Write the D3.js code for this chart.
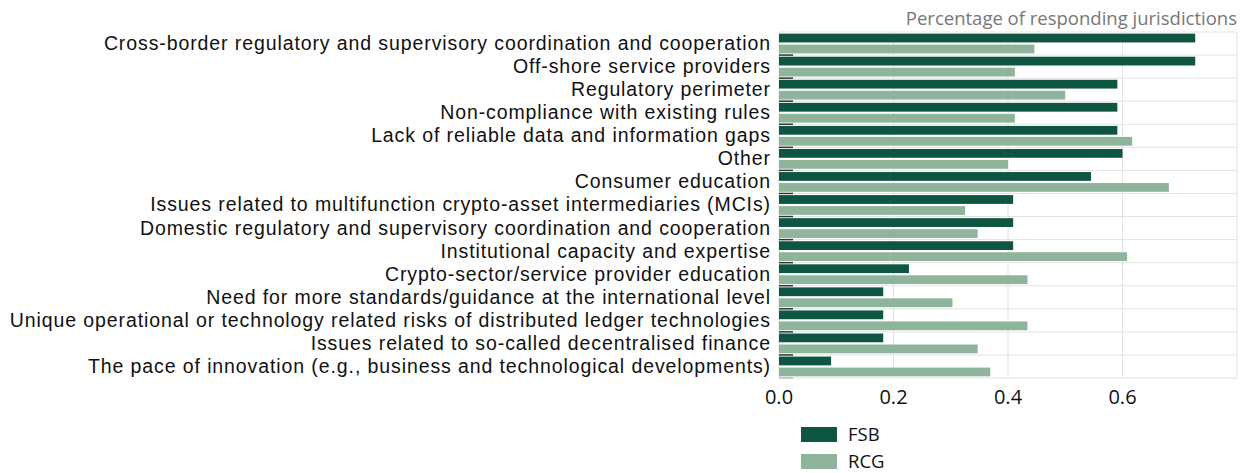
<!DOCTYPE html>
<meta charset="utf-8" />
<style>
    body { margin: 0; background: #fff; }
    text { font-family: "Open Sans", "Noto Sans", sans-serif; }
    text.cat { font-family: "Liberation Sans", Arial, sans-serif; letter-spacing: 0.9px; }
</style>
<script src="https://d3js.org/d3.v7.min.js"></script>
<div id="chart"></div>
<script>
    const categories = [
        "Cross-border regulatory and supervisory coordination and cooperation",
        "Off-shore service providers",
        "Regulatory perimeter",
        "Non-compliance with existing rules",
        "Lack of reliable data and information gaps",
        "Other",
        "Consumer education",
        "Issues related to multifunction crypto-asset intermediaries (MCIs)",
        "Domestic regulatory and supervisory coordination and cooperation",
        "Institutional capacity and expertise",
        "Crypto-sector/service provider education",
        "Need for more standards/guidance at the international level",
        "Unique operational or technology related risks of distributed ledger technologies",
        "Issues related to so-called decentralised finance",
        "The pace of innovation (e.g., business and technological developments)"
    ];
    const fsb = [0.727, 0.727, 0.591, 0.591, 0.591, 0.6, 0.545, 0.409, 0.409, 0.409, 0.227, 0.182, 0.182, 0.182, 0.091];
    const rcg = [0.446, 0.412, 0.5, 0.412, 0.617, 0.4, 0.681, 0.325, 0.347, 0.608, 0.434, 0.303, 0.434, 0.347, 0.369];
    const seriesNames = ["FSB", "RCG"];
    const xTicks = [0, 0.2, 0.4, 0.6];
    const colors = ["#0e5641", "#8eb59b"];

    const W = 1248, H = 473;
    const margin = { top: 32, right: 11, bottom: 95, left: 779 };
    const width = W - margin.left - margin.right,
        height = H - margin.top - margin.bottom;

    const svg = d3.select("#chart").append("svg")
        .attr("width", W).attr("height", H);
    const g = svg.append("g").attr("transform", `translate(${margin.left},${margin.top})`);

    const x = d3.scaleLinear().domain([0, 0.8]).range([0, width]);
    const y = d3.scaleBand().domain(categories).range([0, height]);
    const inner = d3.scaleBand().domain(seriesNames).range([0, y.bandwidth()]).paddingInner(0.2).paddingOuter(0.15);

    // grid
    g.selectAll(".vgrid").data(xTicks.concat([0.8]))
        .join("line")
        .attr("x1", d => x(d)).attr("x2", d => x(d))
        .attr("y1", 0).attr("y2", height)
        .attr("stroke", "#e3e3e3").attr("stroke-width", 1);
    g.selectAll(".hgrid").data(d3.range(categories.length + 1))
        .join("line")
        .attr("x1", 0).attr("x2", width)
        .attr("y1", i => i * y.step()).attr("y2", i => i * y.step())
        .attr("stroke", "#e3e3e3").attr("stroke-width", 1);

    // bars
    const rows = categories.map((c, i) => ({ cat: c, vals: [fsb[i], rcg[i]] }));
    const row = g.selectAll(".row").data(rows).join("g")
        .attr("transform", d => `translate(0,${y(d.cat)})`);
    row.selectAll("rect").data(d => d.vals.map((v, j) => ({ s: seriesNames[j], v: v, j: j })))
        .join("rect")
        .attr("x", 0)
        .attr("y", d => inner(d.s))
        .attr("width", d => x(d.v))
        .attr("height", inner.bandwidth())
        .attr("fill", d => colors[d.j]);

    // small dark ticks on band boundaries
    g.selectAll(".btick").data(d3.range(1, categories.length + 1))
        .join("line")
        .attr("x1", 0).attr("x2", 14)
        .attr("y1", i => i * y.step()).attr("y2", i => i * y.step())
        .attr("stroke", i => i === categories.length ? "#bbb" : "#333").attr("stroke-width", 1.5);

    // category labels
    g.selectAll(".cat").data(categories)
        .join("text")
        .attr("class", "cat")
        .attr("x", -8)
        .attr("y", d => y(d) + y.bandwidth() / 2)
        .attr("dy", "0.33em")
        .attr("text-anchor", "end")
        .attr("font-size", "19.5px")
        .attr("fill", "#111")
        .text(d => d);

    // x axis labels
    g.selectAll(".xt").data(xTicks)
        .join("text")
        .attr("x", d => x(d))
        .attr("y", height + 19)
        .attr("dy", "0.35em")
        .attr("text-anchor", "middle")
        .attr("font-size", "20px")
        .attr("fill", "#111")
        .text(d => d3.format(".1f")(d));

    // title
    svg.append("text")
        .attr("x", margin.left + width)
        .attr("y", 19)
        .attr("dy", "0.35em")
        .attr("text-anchor", "end")
        .attr("font-size", "18.5px")
        .attr("fill", "#777")
        .text("Percentage of responding jurisdictions");

    // legend
    const leg = svg.append("g").attr("transform", `translate(801,427)`);
    const li = leg.selectAll("g").data(seriesNames).join("g")
        .attr("transform", (d, i) => `translate(0,${i * 27})`);
    li.append("rect").attr("width", 36).attr("height", 15).attr("fill", (d, i) => colors[i]);
    li.append("text").attr("x", 47).attr("y", 7.5).attr("dy", "0.35em")
        .attr("font-size", "18.5px").attr("fill", "#111").text(d => d);
</script>
